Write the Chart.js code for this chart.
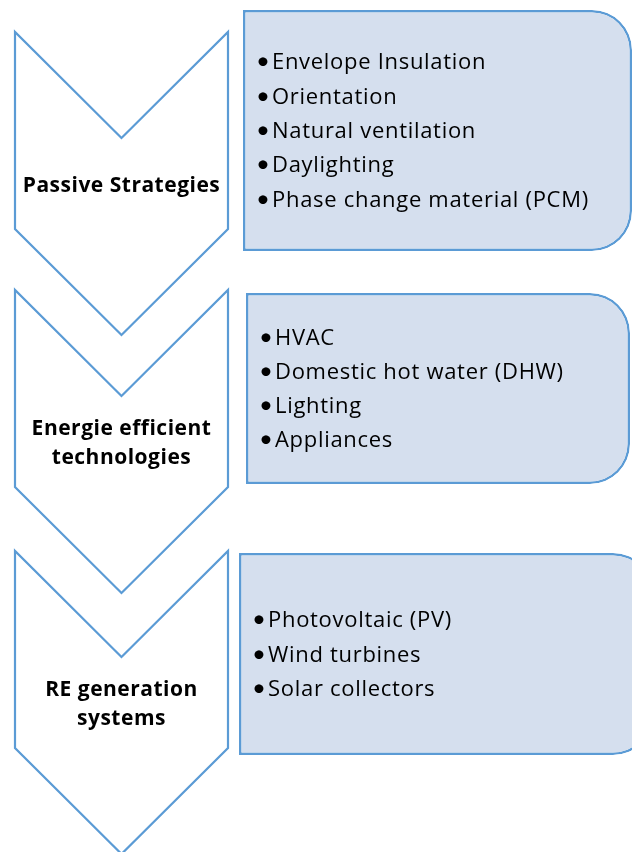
<!DOCTYPE html>
<html>
<head>
<meta charset="utf-8">
<script src="https://cdn.jsdelivr.net/npm/chart.js@4/dist/chart.umd.min.js"></script>
<style>
  html, body { margin: 0; padding: 0; background: #ffffff; }
  #wrap { width: 632px; height: 852px; position: relative; }
</style>
</head>
<body>
<div id="wrap"><canvas id="c"></canvas></div>
<script>
// ---------------- data ----------------
const stages = ['Passive Strategies', 'Energie efficient\ntechnologies', 'RE generation\nsystems'];
const passiveItems = ['Envelope Insulation', 'Orientation', 'Natural ventilation', 'Daylighting', 'Phase change material (PCM)'];
const efficiencyItems = ['HVAC', 'Domestic hot water (DHW)', 'Lighting', 'Appliances'];
const generationItems = ['Photovoltaic (PV)', 'Wind turbines', 'Solar collectors'];
const stageItems = [passiveItems, efficiencyItems, generationItems];

// ---------------- layout (diagram geometry, in axis units = px) ----------------
const layout = {
  width: 632, height: 852,
  chevLeft: 15, chevRight: 228,
  chevTops: [32, 290, 551],
  notch: 106, side: 197, tip: 303,
  boxLeft: [243, 246, 239],
  boxRight: [632, 630, 653],
  boxTop: [10, 293, 553],
  boxBottom: [251, 484, 755],
  radius: 40,
  lineGap: 34.3,
  labelLineGap: 29,
  labelOffset: 159.5
};
const style = {
  stroke: '#5B9BD5',
  boxFill: '#D5DFEE',
  text: '#000000',
  itemFont: '22px "Open Sans", Lato, sans-serif',
  itemSpacing: '0.7px',
  bulletFont: '24px Lato, "Open Sans", sans-serif',
  labelFont: 'bold 21px "Open Sans", Lato, sans-serif',
  labelSpacing: '0.5px'
};

// ---------------- build datasets ----------------
function chevronPoints(top) {
  const L = layout.chevLeft, R = layout.chevRight, C = (L + R) / 2;
  return [
    {x: L, y: top + layout.side / 2},
    {x: L, y: top},
    {x: C, y: top + layout.notch},
    {x: R, y: top},
    {x: R, y: top + layout.side},
    {x: C, y: top + layout.tip},
    {x: L, y: top + layout.side},
    {x: L, y: top + layout.side / 2}
  ];
}

const datasets = [];
stages.forEach((s, i) => {
  const h = layout.boxBottom[i] - layout.boxTop[i];
  datasets.push({
    type: 'bar',
    label: 'box' + i,
    indexAxis: 'y',
    yAxisID: 'yb' + i,
    data: [{ y: (layout.boxTop[i] + layout.boxBottom[i]) / 2, x: [layout.boxLeft[i], layout.boxRight[i]] }],
    barThickness: h,
    backgroundColor: style.boxFill,
    borderColor: style.stroke,
    borderWidth: 2.5,
    borderSkipped: false,
    inflateAmount: 0,
    borderRadius: { topLeft: 0, bottomLeft: 0, topRight: layout.radius, bottomRight: layout.radius },
    order: 2
  });
});
stages.forEach((s, i) => {
  datasets.push({
    type: 'line',
    label: 'chevron' + i,
    yAxisID: 'y',
    data: chevronPoints(layout.chevTops[i]),
    borderColor: style.stroke,
    borderWidth: 2.2,
    borderJoinStyle: 'miter',
    pointRadius: 0,
    tension: 0,
    fill: false,
    showLine: true,
    order: 1
  });
});

const hiddenY = (id) => ({
  type: 'linear', position: 'left', min: 0, max: layout.height, reverse: true,
  display: false, offset: false, grid: { offset: false }
});

const textPlugin = {
  id: 'diagramText',
  afterDatasetsDraw(chart) {
    const ctx = chart.ctx;
    const xs = chart.scales.x, ys = chart.scales.y;
    ctx.save();
    ctx.fillStyle = style.text;
    // stage labels
    ctx.font = style.labelFont;
    if ('letterSpacing' in ctx) ctx.letterSpacing = style.labelSpacing;
    ctx.textAlign = 'center';
    ctx.textBaseline = 'alphabetic';
    stages.forEach((s, i) => {
      const lines = s.split('\n');
      const cx = xs.getPixelForValue((layout.chevLeft + layout.chevRight) / 2);
      const mid = layout.chevTops[i] + layout.labelOffset;
      lines.forEach((ln, k) => {
        const yv = mid + (k - (lines.length - 1) / 2) * layout.labelLineGap;
        ctx.fillText(ln, cx, ys.getPixelForValue(yv));
      });
    });
    // bullet items
    stageItems.forEach((items, i) => {
      const center = (layout.boxTop[i] + layout.boxBottom[i]) / 2;
      items.forEach((it, k) => {
        const yc = center + (k - (items.length - 1) / 2) * layout.lineGap;
        const yb = ys.getPixelForValue(yc + 7.5);
        ctx.font = style.bulletFont;
        if ('letterSpacing' in ctx) ctx.letterSpacing = '0px';
        ctx.textAlign = 'center';
        ctx.fillText('\u2022', xs.getPixelForValue(layout.boxLeft[i] + 20), yb);
        ctx.font = style.itemFont;
        if ('letterSpacing' in ctx) ctx.letterSpacing = style.itemSpacing;
        ctx.textAlign = 'left';
        ctx.fillText(it, xs.getPixelForValue(layout.boxLeft[i] + 29), yb);
      });
    });
    ctx.restore();
  }
};

new Chart(document.getElementById('c'), {
  type: 'scatter',
  data: { datasets },
  options: {
    responsive: true,
    maintainAspectRatio: false,
    animation: false,
    layout: { padding: 0 },
    plugins: { legend: { display: false }, tooltip: { enabled: false }, title: { display: false } },
    events: [],
    scales: {
      x: { type: 'linear', min: 0, max: layout.width, display: false, offset: false, grid: { offset: false } },
      y: hiddenY('y'),
      yb0: hiddenY('yb0'),
      yb1: hiddenY('yb1'),
      yb2: hiddenY('yb2')
    }
  },
  plugins: [textPlugin]
});
</script>
</body>
</html>
